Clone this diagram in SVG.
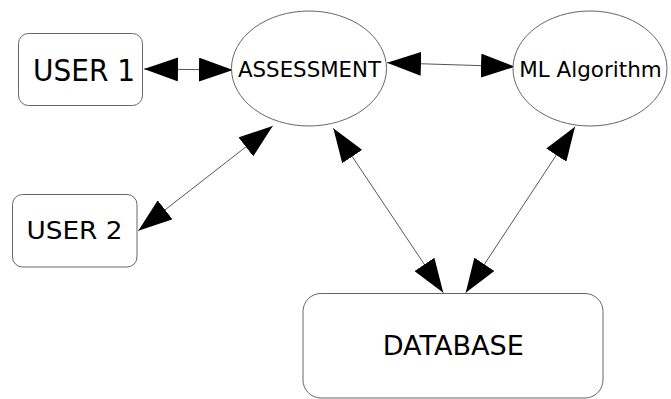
<svg xmlns="http://www.w3.org/2000/svg" width="671" height="399" viewBox="0 0 671 399">
<style>
.box{fill:#fff;stroke:#666;stroke-width:1}
.lbl{font-family:"DejaVu Sans",sans-serif;fill:#000;text-anchor:middle}
.edge{stroke:#555;stroke-width:1;fill:none;marker-start:url(#ah);marker-end:url(#ah)}
</style>
<defs>
<marker id="ah" markerUnits="userSpaceOnUse" markerWidth="34" markerHeight="24" refX="34" refY="12" orient="auto-start-reverse" viewBox="0 0 34 24">
<path d="M0,0 L34,12 L0,24 Z" fill="#000"/>
</marker>
</defs>
<rect width="671" height="399" fill="#fff"/>
<g id="connectors">
<line class="edge" x1="144" y1="69" x2="233" y2="70"/>
<line class="edge" x1="387" y1="62.7" x2="515" y2="66.7"/>
<line class="edge" x1="138.3" y1="230.7" x2="272.7" y2="126"/>
<line class="edge" x1="333.3" y1="128.3" x2="443.3" y2="292.7"/>
<line class="edge" x1="575" y1="126.7" x2="465.7" y2="292.7"/>
</g>
<g id="user1">
<rect class="box" x="18.5" y="33.5" width="124" height="72" rx="10"/>
<text class="lbl" x="84" y="81" font-size="30" textLength="102" lengthAdjust="spacingAndGlyphs">USER 1</text>
</g>
<g id="assessment">
<ellipse class="box" cx="309" cy="68.5" rx="77.5" ry="57.5"/>
<text class="lbl" x="309.5" y="76.7" font-size="22" textLength="143" lengthAdjust="spacingAndGlyphs">ASSESSMENT</text>
</g>
<g id="ml">
<ellipse class="box" cx="590" cy="68.5" rx="77" ry="57.5"/>
<text class="lbl" x="590.5" y="76.7" font-size="22" textLength="142.5" lengthAdjust="spacingAndGlyphs">ML Algorithm</text>
</g>
<g id="user2">
<rect class="box" x="12.5" y="194.5" width="124.5" height="72.5" rx="10"/>
<text class="lbl" x="74.5" y="239.3" font-size="25.5" textLength="96" lengthAdjust="spacingAndGlyphs">USER 2</text>
</g>
<g id="database">
<rect class="box" x="303" y="293.5" width="300" height="104.5" rx="18"/>
<text class="lbl" x="453.3" y="355" font-size="27" textLength="141.3" lengthAdjust="spacingAndGlyphs">DATABASE</text>
</g>
</svg>
